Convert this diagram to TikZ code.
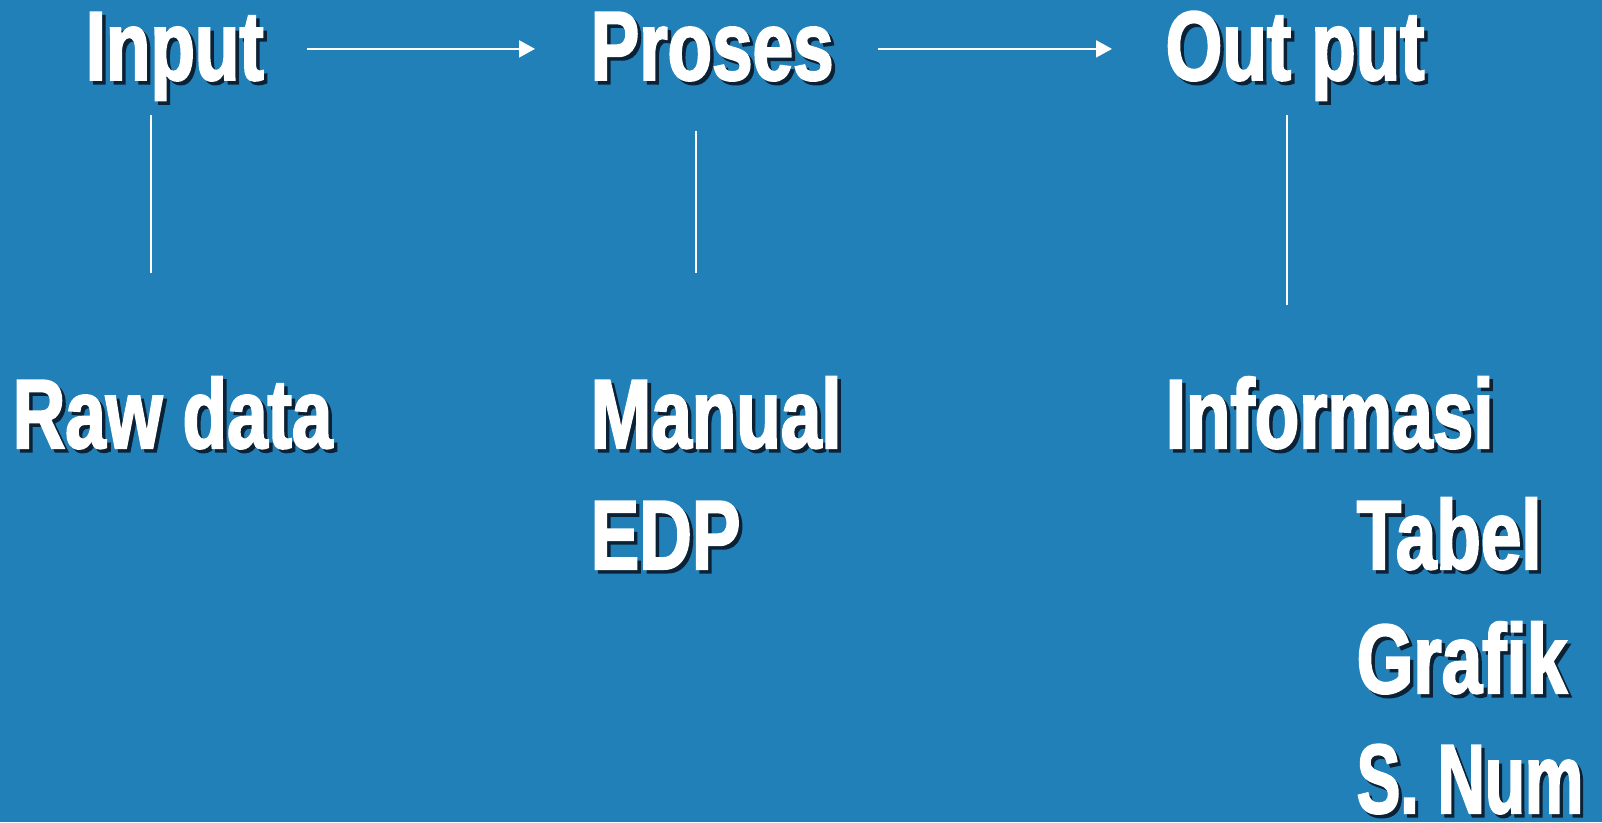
\documentclass[tikz,border=0pt]{standalone}
\usepackage{fontspec}
\usepackage{tikz}
\usetikzlibrary{arrows.meta,calc,positioning}
\newfontfamily\slidefont[FakeStretch=0.74,FakeBold=2]{Liberation Sans}
\definecolor{SlideBlue}{HTML}{2280B8}
\definecolor{SlideShadow}{HTML}{0B2236}
\newcommand{\shadowed}[1]{\rlap{\kern1pt\raisebox{-1pt}{\color{SlideShadow}#1}}#1}

\begin{document}
\begin{tikzpicture}[
      word/.style={anchor=base west,inner sep=0pt,text=white,
        text height=19.4pt,text depth=1.7pt,font=\slidefont\bfseries\fontsize{28}{30}\selectfont},
      flow/.style={-{Triangle[length=1.6mm,width=1.7mm]},line width=0.6pt,color=white},
      link/.style={line width=0.6pt,color=white}
    ]
      \fill[SlideBlue] (0,0) rectangle (16.02,-8.22);
      \useasboundingbox (0,0) rectangle (16.02,-8.22);
      % top row
      \node[word] (in) at (0.85,-0.80) {\shadowed{Input}};
      \node[word] (pr) at (5.90,-0.80) {\shadowed{Proses}};
      \node[word] (out) at (11.65,-0.80) {\shadowed{Out put}};
      % lower rows
      \node[word] (raw) at (0.12,-4.48) {\shadowed{Raw data}};
      \node[word] (man) at (5.90,-4.48) {\shadowed{Manual}};
      \node[word] (edp) at (5.90,-5.69) {\shadowed{EDP}};
      \node[word] (info) at (11.65,-4.48) {\shadowed{Informasi}};
      \node[word] (tab) at (13.56,-5.69) {\shadowed{Tabel}};
      \node[word] (gra) at (13.56,-6.93) {\shadowed{Grafik}};
      \node[word,text depth=0pt] (num) at (13.56,-8.13) {\scalebox{0.9}[1]{\shadowed{S.\kern6pt Num}}};
      % arrows
      \draw[flow,shorten <=0.43cm,shorten >=0.55cm] (in.east) -- (in.east -| pr.west);
      \draw[flow,shorten <=0.44cm,shorten >=0.53cm] (pr.east) -- (pr.east -| out.west);
      % vertical links
      \coordinate (v1) at (1.51,-1.15);
      \coordinate (v2) at (6.96,-1.31);
      \coordinate (v3) at (12.87,-1.15);
      \draw[link,shorten >=1.06cm] (v1) -- (v1 |- raw.north);
      \draw[link,shorten >=1.06cm] (v2) -- (v2 |- man.north);
      \draw[link,shorten >=0.74cm] (v3) -- (v3 |- info.north);
    \end{tikzpicture}
\end{document}
